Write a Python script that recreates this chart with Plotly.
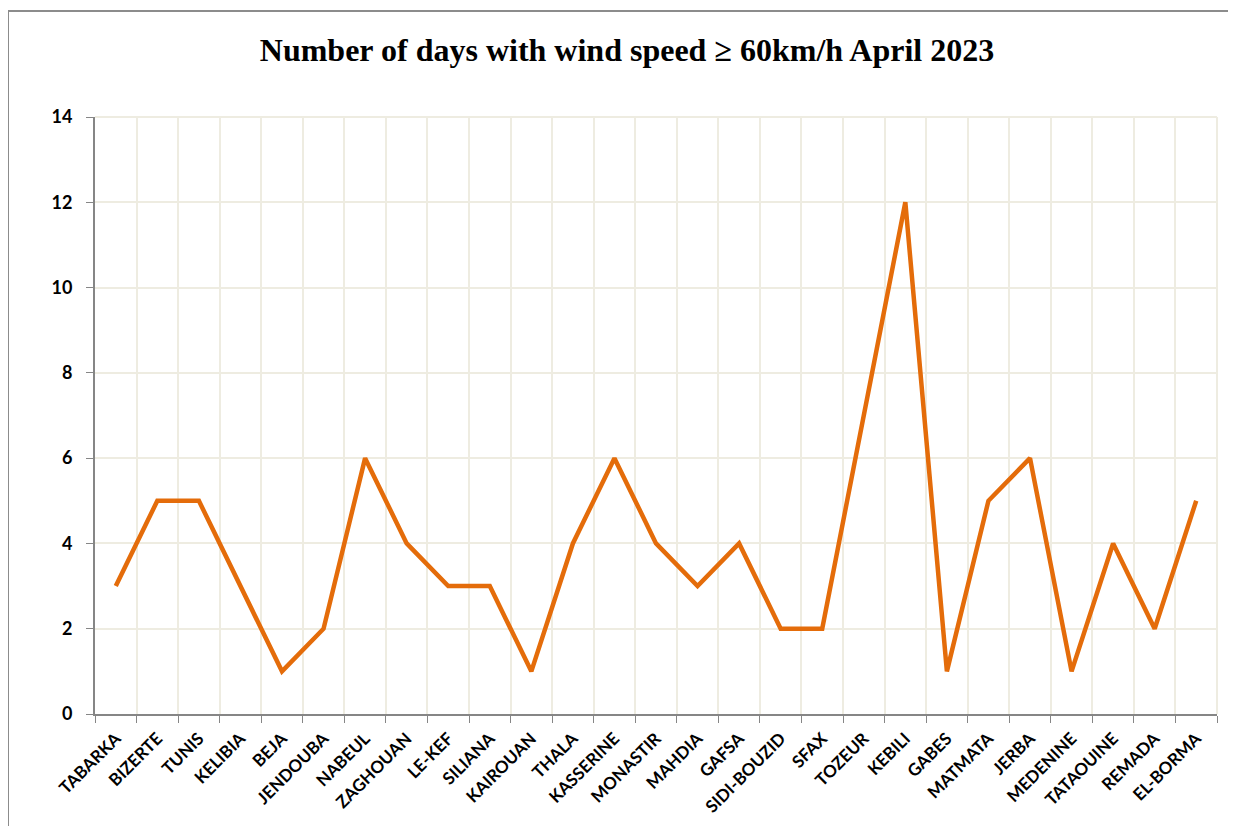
import plotly.graph_objects as go

stations = ["TABARKA", "BIZERTE", "TUNIS", "KELIBIA", "BEJA", "JENDOUBA", "NABEUL",
            "ZAGHOUAN", "LE-KEF", "SILIANA", "KAIROUAN", "THALA", "KASSERINE",
            "MONASTIR", "MAHDIA", "GAFSA", "SIDI-BOUZID", "SFAX", "TOZEUR", "KEBILI",
            "GABES", "MATMATA", "JERBA", "MEDENINE", "TATAOUINE", "REMADA", "EL-BORMA"]
days = [3, 5, 5, 3, 1, 2, 6, 4, 3, 3, 1, 4, 6, 4, 3, 4, 2, 2, 7, 12, 1, 5, 6, 1, 4, 2, 5]
y_ticks = [0, 2, 4, 6, 8, 10, 12, 14]

# page body has an 8px margin, so the figure starts at (8, 8)
OFF = 8
W, H = 1236 - OFF, 826 - OFF
L, R, T, B = 95 - OFF, 1236 - 1217, 117 - OFF, 826 - 714
pw, ph = W - L - R, H - T - B

def px(x):
    return (x - L) / pw

def py(y):
    return (H - B - y) / ph

fig = go.Figure()
fig.add_trace(go.Scatter(x=stations, y=days, mode="lines",
                         line=dict(color="#E46C0A", width=4.5),
                         showlegend=False, hoverinfo="x+y"))

grid = "#EEECE1"
axis_col = "#868686"
fig.update_layout(
    width=W, height=H,
    margin=dict(l=L, r=R, t=T, b=B),
    paper_bgcolor="white", plot_bgcolor="white",
    title=dict(text="Number of days with wind speed ≥ 60km/h April 2023",
               font=dict(family="Liberation Serif", size=32, color="black", weight="bold"),
               x=px(627 - OFF), xanchor="center", xref="paper",
               y=1 - (50 - OFF) / H, yanchor="middle", automargin=False),
    xaxis=dict(type="category", range=[-0.5, len(stations) - 0.5], automargin=False,
               tickson="boundaries", ticks="outside", ticklen=7, tickcolor=axis_col,
               showgrid=True, gridcolor=grid, gridwidth=2,
               showline=True, linecolor=axis_col, linewidth=2,
               tickangle=-45, ticklabelstandoff=6,
               tickfont=dict(family="Lato", size=17, color="black", weight="bold")),
    yaxis=dict(range=[0, 14], tickvals=y_ticks, ticks="outside", ticklen=7, automargin=False,
               tickcolor=axis_col, ticklabelstandoff=10,
               showgrid=True, gridcolor=grid, gridwidth=2,
               showline=True, linecolor=axis_col, linewidth=2, zeroline=False,
               tickfont=dict(family="Lato", size=18, color="black", weight="bold")),
    shapes=[
        dict(type="rect", xref="paper", yref="paper",
             x0=px(0), x1=px(W + 5), y0=py(H + 5), y1=py(3),
             line=dict(color="#8C8C8C", width=2), fillcolor="rgba(0,0,0,0)", layer="below"),
        dict(type="line", xref="paper", yref="paper", x0=1, x1=1, y0=0, y1=1,
             line=dict(color=grid, width=2), layer="below"),
        dict(type="line", xref="paper", yref="paper", x0=0, x1=1, y0=1, y1=1,
             line=dict(color=grid, width=2), layer="below"),
    ],
)

fig.write_html("out.html")
